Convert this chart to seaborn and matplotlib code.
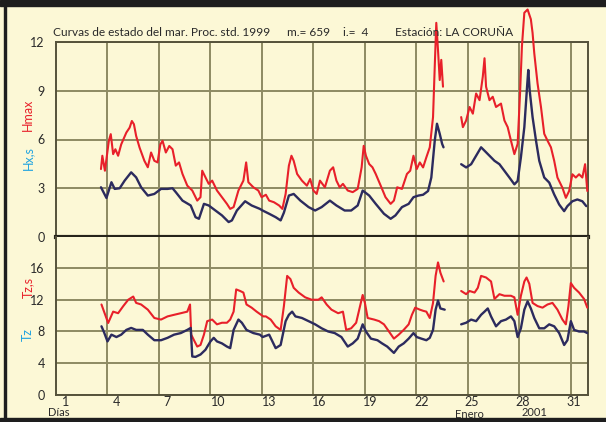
import numpy as np
import pandas as pd
import matplotlib
matplotlib.use("Agg")
import matplotlib.pyplot as plt
import seaborn as sns

# --- datos (dia del mes, valor); NaN = hueco sin datos
hmax_day = [3.62, 3.70, 3.85, 4.08, 4.19, 4.33, 4.46, 4.62, 4.80, 5.10, 5.29, 5.42, 5.54, 5.67, 5.87,
            6.15, 6.35, 6.54, 6.73, 6.92, 7.08, 7.21, 7.40, 7.60, 7.79, 7.98, 8.17, 8.37, 8.65, 8.94,
            9.23, 9.42, 9.52, 9.71, 9.90, 10.10, 10.38, 10.67, 10.96, 11.15, 11.35, 11.63, 11.92, 12.08,
            12.21, 12.50, 12.79, 12.98, 13.23, 13.42, 13.70, 14.00, 14.19, 14.38, 14.57, 14.72, 14.85,
            15.05, 15.33, 15.62, 15.81, 16.00, 16.19, 16.38, 16.67, 16.96, 17.15, 17.34, 17.53, 17.72,
            18.00, 18.29, 18.58, 18.81, 18.93, 19.06, 19.25, 19.44, 19.63, 19.92, 20.20, 20.50, 20.69,
            20.88, 21.16, 21.45, 21.64, 21.83, 22.02, 22.20, 22.39, 22.58, 22.78, 22.97, 23.07, 23.16,
            23.26, 23.36, 23.45, 23.55, 24.0, 24.61, 24.71, 24.90, 25.10, 25.29, 25.48, 25.68, 25.87,
            25.97, 26.06, 26.26, 26.45, 26.64, 26.93, 27.13, 27.32, 27.51, 27.71, 27.90, 28.04, 28.15,
            28.29, 28.48, 28.67, 28.77, 28.87, 29.06, 29.26, 29.45, 29.64, 29.84, 30.03, 30.22, 30.51,
            30.71, 30.90, 31.09, 31.29, 31.48, 31.67, 31.83, 31.96]
hmax_val = [4.18, 5.0, 4.08, 5.92, 6.33, 5.1, 5.4, 5.0, 5.7, 6.43, 6.73, 7.14, 6.94, 6.22, 5.5,
            4.69, 4.29, 5.2, 4.69, 4.59, 5.7, 5.92, 5.2, 5.6, 5.4, 4.39, 4.59, 3.88, 3.16, 2.86,
            2.24, 2.45, 4.08, 3.67, 3.27, 3.47, 2.86, 2.45, 2.04, 1.73, 1.84, 2.86, 3.47, 4.59,
            3.37, 3.06, 2.86, 2.45, 2.6, 2.24, 2.14, 1.94, 1.73, 2.65, 4.39, 5.0, 4.69,
            3.88, 3.47, 3.16, 3.57, 2.86, 2.65, 3.47, 3.06, 4.08, 4.29, 3.47, 3.06, 3.27,
            2.86, 2.76, 2.96, 4.29, 5.61, 5.0, 4.49, 4.29, 3.88, 3.16, 2.45, 2.04, 2.24,
            3.06, 2.96, 3.88, 4.08, 5.0, 4.18, 4.59, 4.28, 4.9, 5.52, 7.38, 10.49, 13.18,
            11.5, 9.66, 10.9, 9.25, np.nan, 7.38, 6.76, 7.17, 8.0, 7.59, 8.83, 8.42, 9.87,
            11.0, 9.25, 8.42, 8.63, 8.0, 8.21, 7.17, 6.76, 5.93, 5.1, 5.73, 8.83, 11.73,
            13.8, 14.0, 13.4, 12.56, 11.3, 9.45, 8.0, 6.35, 5.93, 5.52, 4.69, 3.66, 3.03,
            2.41, 2.83, 3.86, 3.66, 3.86, 3.66, 4.48, 2.83]

hs_day = [3.62, 3.94, 4.23, 4.42, 4.71, 5.00, 5.38, 5.67, 5.96, 6.35, 6.73, 7.12, 7.50, 7.79, 7.98,
          8.37, 8.85, 9.13, 9.33, 9.62, 9.90, 10.29, 10.67, 11.06, 11.25, 11.54, 12.02, 12.40, 12.88,
          13.04, 13.42, 13.80, 14.09, 14.28, 14.57, 14.85, 15.24, 15.72, 16.10, 16.48, 16.96, 17.34,
          17.82, 18.20, 18.58, 18.87, 19.25, 19.63, 20.11, 20.50, 20.78, 21.16, 21.55, 21.83, 22.12,
          22.39, 22.68, 22.87, 23.07, 23.20, 23.36, 23.50, 23.58, 24.0, 24.61, 24.90, 25.19, 25.48,
          25.77, 25.97, 26.26, 26.55, 26.84, 27.13, 27.42, 27.71, 27.90, 28.09, 28.29, 28.45, 28.52,
          28.60, 28.77, 28.97, 29.16, 29.45, 29.74, 30.03, 30.32, 30.61, 30.80, 31.09, 31.38, 31.67,
          31.90]
hs_val = [3.06, 2.4, 3.37, 2.96, 3.0, 3.47, 3.98, 3.67, 3.06, 2.55, 2.65, 2.96, 2.96, 3.0, 2.76,
          2.24, 1.94, 1.22, 1.12, 2.04, 1.94, 1.63, 1.33, 0.92, 1.02, 1.63, 2.2, 1.94, 1.73,
          1.63, 1.43, 1.22, 1.02, 1.5, 2.55, 2.65, 2.24, 1.84, 1.63, 1.84, 2.24, 1.94,
          1.63, 1.63, 1.94, 2.86, 2.55, 2.04, 1.43, 1.12, 1.33, 1.84, 2.04, 2.45, 2.55,
          2.6, 2.83, 3.66, 5.93, 6.97, 6.35, 5.73, 5.52, np.nan, 4.48, 4.28, 4.48, 5.0,
          5.52, 5.31, 5.0, 4.69, 4.48, 4.07, 3.66, 3.24, 3.45, 4.9, 6.76, 9.25, 10.28,
          9.04, 7.38, 5.93, 4.69, 3.66, 3.35, 2.62, 2.0, 1.59, 1.9, 2.2, 2.31, 2.2,
          1.9]

tz_day = [3.65, 3.80, 4.00, 4.23, 4.52, 4.80, 5.10, 5.38, 5.67, 6.06, 6.35, 6.73, 7.12, 7.50, 7.88,
          8.27, 8.65, 8.85, 8.94, 9.13, 9.42, 9.71, 10.00, 10.19, 10.38, 10.67, 10.96, 11.15, 11.35,
          11.63, 11.83, 12.10, 12.50, 12.88, 13.04, 13.42, 13.80, 14.09, 14.38, 14.57, 14.76, 14.95,
          15.33, 15.72, 16.10, 16.48, 16.86, 17.24, 17.63, 18.00, 18.29, 18.58, 18.87, 19.06, 19.35,
          19.73, 20.00, 20.30, 20.69, 20.97, 21.26, 21.55, 21.83, 22.02, 22.29, 22.58, 22.78, 22.97,
          23.12, 23.26, 23.40, 23.65, 24.0, 24.61, 24.90, 25.19, 25.48, 25.77, 25.97, 26.16, 26.35,
          26.64, 26.93, 27.22, 27.51, 27.71, 27.90, 28.09, 28.29, 28.48, 28.67, 28.87, 29.16, 29.45,
          29.74, 30.03, 30.32, 30.61, 30.80, 31.00, 31.19, 31.48, 31.77, 31.96]
tz_val = [8.65, 7.9, 6.75, 7.6, 7.3, 7.6, 8.2, 8.45, 8.2, 8.2, 7.6, 6.9, 6.9, 7.2, 7.6,
          7.8, 8.2, 8.45, 4.85, 4.8, 5.1, 5.7, 6.75, 7.2, 6.75, 6.5, 6.1, 5.9, 8.2,
          9.5, 9.1, 8.2, 7.8, 7.6, 7.3, 7.6, 5.9, 6.3, 9.3, 10.1, 10.5, 9.9,
          9.7, 9.3, 8.9, 8.4, 8.0, 7.8, 7.3, 6.1, 6.5, 7.1, 8.9, 8.0, 7.1,
          6.9, 6.5, 6.1, 5.3, 6.1, 6.5, 7.1, 7.8, 7.3, 7.1, 6.9, 7.2, 8.2,
          10.75, 11.9, 10.9, 10.75, np.nan, 8.9, 9.1, 9.5, 9.3, 10.1, 10.5, 10.9, 9.9,
          8.65, 9.3, 9.5, 9.9, 9.3, 7.3, 8.4, 10.75, 11.8, 10.9, 9.7, 8.4, 8.4,
          8.9, 8.65, 7.8, 6.3, 6.9, 9.3, 8.2, 8.0, 8.0, 7.8]

tzs_day = [3.65, 3.75, 4.04, 4.33, 4.62, 4.92, 5.21, 5.50, 5.67, 5.96, 6.35, 6.73, 7.12, 7.50, 7.88,
           8.27, 8.65, 8.81, 8.88, 9.04, 9.23, 9.42, 9.62, 9.81, 10.10, 10.38, 10.67, 10.96, 11.15,
           11.35, 11.50, 11.73, 11.92, 12.10, 12.40, 12.69, 13.08, 13.23, 13.51, 13.80, 14.09, 14.28,
           14.47, 14.66, 14.85, 15.14, 15.52, 15.90, 16.29, 16.48, 16.77, 17.05, 17.44, 17.72, 17.91,
           18.20, 18.49, 18.74, 18.87, 19.00, 19.16, 19.54, 19.83, 20.11, 20.40, 20.69, 20.97, 21.26,
           21.55, 21.74, 21.93, 22.20, 22.40, 22.58, 22.78, 22.97, 23.12, 23.26, 23.40, 23.59, 24.0,
           24.61, 24.90, 25.10, 25.39, 25.58, 25.77, 26.06, 26.35, 26.55, 26.84, 27.13, 27.51, 27.71,
           27.90, 28.09, 28.29, 28.42, 28.58, 28.77, 29.06, 29.35, 29.64, 29.93, 30.22, 30.51, 30.71,
           30.86, 31.00, 31.19, 31.48, 31.77, 31.96]
tzs_val = [11.4, 10.8, 9.07, 10.5, 10.3, 11.2, 12.0, 12.4, 11.6, 11.4, 10.75, 9.7, 9.5, 9.9, 10.1,
           10.3, 10.5, 11.4, 7.6, 6.9, 6.1, 6.3, 7.6, 9.3, 9.5, 8.9, 9.1, 9.1, 9.5,
           10.5, 13.3, 13.1, 12.9, 11.4, 11.0, 10.5, 9.9, 9.9, 9.5, 8.65, 8.2, 11.2,
           15.0, 14.6, 13.5, 12.9, 12.3, 12.0, 12.0, 12.3, 11.4, 10.75, 10.3, 10.5, 8.2,
           8.4, 9.1, 11.4, 12.6, 11.6, 9.7, 9.5, 9.3, 8.9, 8.0, 7.1, 7.6, 8.2,
           8.9, 10.1, 11.0, 10.75, 10.6, 10.5, 9.7, 11.6, 15.0, 16.7, 15.4, 14.3, np.nan,
           13.1, 12.7, 13.1, 12.9, 13.5, 15.0, 14.8, 14.3, 12.1, 12.7, 12.5, 12.5, 12.3,
           10.1, 12.5, 14.3, 14.8, 14.0, 11.6, 11.2, 11.0, 11.4, 11.6, 10.75, 9.5, 8.9,
           11.2, 14.1, 13.5, 12.9, 12.1, 11.0]

day_labels = [1, 4, 7, 10, 13, 16, 19, 22, 25, 28, 31]
grid_days = [4, 7, 10, 13, 16, 19, 22, 25, 28, 31]

BG = "#fcf8d6"
GRID = "#8e8b62"
SPINE = "#55523a"
RED = "#e8202a"
NAVY = "#2c2b5e"
CYAN = "#1ea3e0"
INK = "#2a2a2a"

sns.set_style("white", rc={"axes.facecolor": BG, "figure.facecolor": BG})
plt.rcParams["font.family"] = ["Lato", "DejaVu Sans"]


def to_frame(days, vals):
    df = pd.DataFrame({"dia": days, "valor": vals})
    df["tramo"] = df["valor"].isna().cumsum()
    return df.dropna()


fig = plt.figure(figsize=(6.06, 4.22), dpi=100)
W, H = 606, 422
left, right = 56 / W, 588 / W
ax_top = fig.add_axes([left, (H - 237) / H, right - left, 195 / H])
ax_bot = fig.add_axes([left, (H - 395) / H, right - left, 158 / H])

for ax in (ax_top, ax_bot):
    ax.set_xlim(1, 32)
    for d in grid_days:
        ax.axvline(d, color=GRID, lw=1.4, zorder=1)
    ax.grid(axis="y", which="major", color=GRID, lw=1.4, zorder=1)
    ax.set_axisbelow(True)
    for s in ax.spines.values():
        s.set_color(SPINE)
        s.set_linewidth(1.4)
    ax.tick_params(axis="y", which="major", length=6, width=1.2, color=SPINE,
                   labelsize=9, pad=2, labelcolor=INK)
    ax.tick_params(axis="y", which="minor", length=2, width=2, color=SPINE)

# panel superior: alturas de ola
sns.lineplot(data=to_frame(hmax_day, hmax_val), x="dia", y="valor", units="tramo",
             estimator=None, color=RED, lw=1.5, ax=ax_top, clip_on=False, zorder=3)
sns.lineplot(data=to_frame(hs_day, hs_val), x="dia", y="valor", units="tramo",
             estimator=None, color=NAVY, lw=1.7, ax=ax_top, zorder=4)
ax_top.set_ylim(0, 12)
ax_top.set_yticks([0, 3, 6, 9, 12])
ax_top.set_yticks(np.arange(0, 13, 1), minor=True)
ax_top.set_xticks([])
ax_top.spines["bottom"].set_color("#26241a")
ax_top.spines["bottom"].set_linewidth(3)
ax_top.set_xlabel("")
ax_top.set_ylabel("")

# panel inferior: periodos
sns.lineplot(data=to_frame(tzs_day, tzs_val), x="dia", y="valor", units="tramo",
             estimator=None, color=RED, lw=1.5, ax=ax_bot, zorder=3)
sns.lineplot(data=to_frame(tz_day, tz_val), x="dia", y="valor", units="tramo",
             estimator=None, color=NAVY, lw=1.7, ax=ax_bot, zorder=4)
ax_bot.set_ylim(0, 19.9)
ax_bot.set_yticks([0, 4, 8, 12, 16])
ax_bot.set_yticks(np.arange(0, 19, 2), minor=True)
ax_bot.spines["top"].set_visible(False)
lab_pos = [d + 0.56 - 0.013 * (d - 1) for d in day_labels]
ax_bot.set_xticks(lab_pos, [str(d) for d in day_labels])
ax_bot.set_xticks(np.arange(2, 32, 1), minor=True)
ax_bot.tick_params(axis="x", which="major", length=0, labelsize=9, pad=0.5, labelcolor=INK)
ax_bot.tick_params(axis="x", which="minor", length=2, width=2, color=SPINE, direction="in")
ax_bot.set_xlabel("")
ax_bot.set_ylabel("")


def ftext(x, y, s, **kw):
    fig.text(x / W, 1 - y / H, s, **kw)


tkw = dict(fontsize=8.6, va="center", color=INK)
ftext(53, 33, "Curvas de estado del mar. Proc. std. 1999", **tkw)
ftext(287, 33, "m.= 659", **tkw)
ftext(343, 33, "i.=  4", **tkw)
ftext(395, 33, "Estación: LA CORUÑA", **tkw)

ftext(28, 115, "Hmax", color=RED, rotation=90, fontsize=9, ha="center", va="center")
ftext(28, 158, "Hx,s", color=CYAN, rotation=90, fontsize=9, ha="center", va="center")
ftext(28, 288, "Tz,s", color=RED, rotation=90, fontsize=9, ha="center", va="center")
ftext(28, 335, "Tz", color=CYAN, rotation=90, fontsize=9, ha="center", va="center")

ftext(59, 413, "Días", fontsize=8, ha="center", va="center", color=INK)
ftext(469, 414, "Enero", fontsize=8, ha="center", va="center", color=INK)
ftext(534, 413, "2001", fontsize=8, ha="center", va="center", color=INK)

# marco oscuro de la figura
fig.patches.append(plt.Rectangle((0, 1 - 6 / H), 1, 6 / H, transform=fig.transFigure,
                                 color="#1e1e1e", zorder=10))
fig.patches.append(plt.Rectangle((0, 0), 1, 4 / H, transform=fig.transFigure,
                                 color="#1e1e1e", zorder=10))
fig.patches.append(plt.Rectangle((4 / W, 0), 2 / W, 1, transform=fig.transFigure,
                                 color="#1e1e1e", zorder=10))

fig.savefig("out.png", dpi=100, facecolor=BG)
